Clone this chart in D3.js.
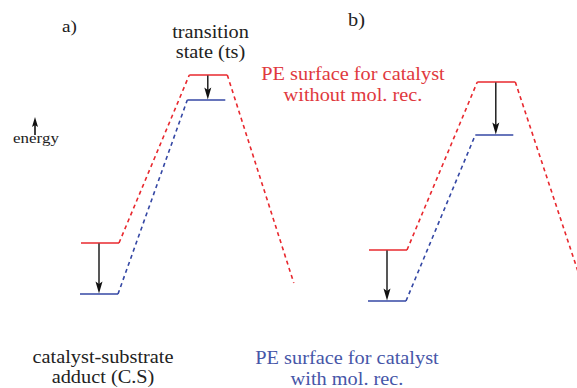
<!DOCTYPE html>
<html><head><meta charset="utf-8">
<script src="https://cdn.jsdelivr.net/npm/d3@7"></script>
<style>
html,body{margin:0;padding:0;background:#fff;}
svg{display:block;}
text{font-family:"Liberation Serif","Times New Roman",serif;}
</style></head>
<body>
<script>
// ---- data ----
const panels = ["a)", "b)"];
const stages = ["C.S", "ts", "end"];
// reaction-coordinate extents of the flat levels [start, end] for C.S and ts, and end of descending branch
const levelExtents = [[0, 1], [2.85, 3.85]];
const rcEnd = 5.6;
// energies (arbitrary units) – without molecular recognition (red)
const redA = [26.8, 94, 10.8];
const redB = [24, 91.2, 10.8];
// energies – with molecular recognition (blue); no descending branch drawn
const blueA = [6.4, 84];
const blueB = [3.6, 70];
const seriesLabels = ["PE surface for catalyst|without mol. rec.", "PE surface for catalyst|with mol. rec."];

const W = 577, H = 388;
const RED = "#e8282e", BLUE = "#3447a4";
const svg = d3.select("body").append("svg").attr("width", W).attr("height", H);

svg.append("defs").append("clipPath").attr("id", "clip").append("rect").attr("width", W).attr("height", H);

const y = d3.scaleLinear().domain([0, 100]).range([310, 60]);
const xScales = [
  d3.scaleLinear().domain([0, 1]).range([81, 119]),
  d3.scaleLinear().domain([0, 1]).range([369, 407])
];

const line = d3.line().x(d => d[0]).y(d => d[1]);
const g = svg.append("g").attr("clip-path", "url(#clip)");

function arrow(parent, x, y1, y2, hw, hl, sw) {
  const dir = y2 > y1 ? 1 : -1;
  parent.append("line").attr("x1", x).attr("x2", x).attr("y1", y1).attr("y2", y2 - dir * hl * 0.7)
    .attr("stroke", "#111").attr("stroke-width", sw);
  parent.append("path")
    .attr("d", `M${x},${y2} L${x - hw / 2},${y2 - dir * hl} L${x},${y2 - dir * hl * 0.8} L${x + hw / 2},${y2 - dir * hl} Z`)
    .attr("fill", "#111");
}

function drawPanel(x, red, blue) {
  const rPts = [
    [x(levelExtents[0][0]), y(red[0])], [x(levelExtents[0][1]), y(red[0])],
    [x(levelExtents[1][0]), y(red[1])], [x(levelExtents[1][1]), y(red[1])],
    [x(rcEnd), y(red[2])]
  ];
  const bPts = [
    [x(levelExtents[0][0]) - 1, y(blue[0])], [x(levelExtents[0][1]) - 1, y(blue[0])],
    [x(levelExtents[1][0]) - 2, y(blue[1])], [x(levelExtents[1][1]) - 2, y(blue[1])]
  ];
  g.append("path").attr("d", line([rPts[1], rPts[2]])).attr("fill", "none").attr("stroke", RED)
    .attr("stroke-width", 1.6).attr("stroke-dasharray", "4,3.5");
  g.append("path").attr("d", line([rPts[3], rPts[4]])).attr("fill", "none").attr("stroke", RED)
    .attr("stroke-width", 1.6).attr("stroke-dasharray", "4,3.5");
  g.append("path").attr("d", line([bPts[1], bPts[2]])).attr("fill", "none").attr("stroke", BLUE)
    .attr("stroke-width", 1.6).attr("stroke-dasharray", "4,3.5");
  [[rPts[0], rPts[1], RED], [rPts[2], rPts[3], RED], [bPts[0], bPts[1], BLUE], [bPts[2], bPts[3], BLUE]]
    .forEach(([p, q, c]) => g.append("path").attr("d", line([p, q])).attr("stroke", c).attr("stroke-width", 1.6));
  [0, 1].forEach(i => {
    const xm = x((levelExtents[i][0] + levelExtents[i][1]) / 2) - (i === 0 ? 1 : 0.5);
    arrow(g, xm, y(red[i]) + 0.5, y(blue[i]) - 0.5, 7, 12, 1.4);
  });
}
drawPanel(xScales[0], redA, blueA);
drawPanel(xScales[1], redB, blueB);

function label(lines, cx, baselines, size, color) {
  lines.forEach((t, i) => {
    svg.append("text").attr("transform", `translate(${cx},${baselines[i]}) scale(1.13,1)`)
      .attr("text-anchor", "middle").attr("font-size", size).attr("fill", color).text(t);
  });
}
label([panels[0]], 69.5, [32], 17, "#222");
label([panels[1]], 356.5, [26], 18, "#222");
label(["transition", "state (ts)"], 210.5, [38, 58], 18, "#222");
label(seriesLabels[0].split("|"), 353, [80, 101], 18, "#e0393e");
label(seriesLabels[1].split("|"), 347, [364, 384.5], 18, "#4656a8");
label(["catalyst-substrate", "adduct (C.S)"], 103, [363, 383], 18, "#222");
label(["energy"], 36, [143], 15, "#222");

arrow(svg, 35, 135, 117, 6, 10, 1.6);
</script>
</body></html>
